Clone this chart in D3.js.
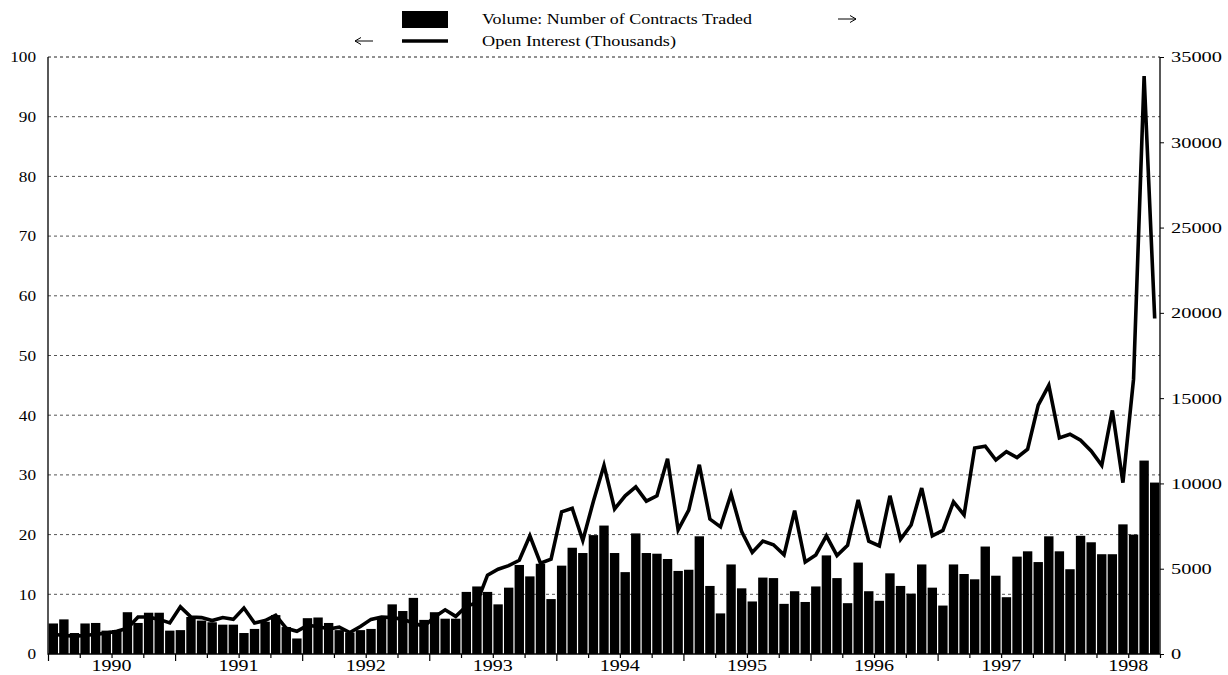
<!DOCTYPE html>
<html>
<head>
<meta charset="utf-8">
<script src="https://cdnjs.cloudflare.com/ajax/libs/d3/7.8.5/d3.min.js"></script>
<style>
body { margin: 0; background: #fff; }
svg { display: block; }
text { font-family: "Liberation Serif", "Times New Roman", serif; fill: #000; }
</style>
</head>
<body>
<svg id="chart" width="1228" height="675"></svg>
<script>
// monthly data, Jan 1990 .. Sep 1998
var years = ["1990", "1991", "1992", "1993", "1994", "1995", "1996", "1997", "1998"];

// volume: number of contracts traded (right axis)
var volume = [
    1790, 2030, 1230, 1790, 1820, 1370, 1400, 2450, 1820, 2420,
    2420, 1370, 1400, 2170, 1960, 1860, 1720, 1720, 1230, 1470,
    1890, 2280, 1580, 910, 2100, 2140, 1820, 1400, 1260, 1400,
    1470, 2170, 2910, 2520, 3290, 2000, 2450, 2070, 2070, 3640,
    3960, 3640, 2910, 3890, 5220, 4550, 5290, 3220, 5180, 6230,
    5920, 6970, 7530, 5920, 4800, 7070, 5920, 5880, 5570, 4870,
    4940, 6900, 3990, 2380, 5250, 3850, 3080, 4480, 4450, 2940,
    3680, 3050, 3960, 5780, 4450, 2980, 5360, 3680, 3120, 4730,
    3990, 3540, 5250, 3890, 2840, 5250, 4690, 4380, 6300, 4590,
    3330, 5710, 6020, 5390, 6900, 6020, 4970, 6930, 6550, 5850,
    5850, 7600, 7000, 11340, 10050
];

// open interest in thousands (left axis)
var openInterest = [
    3.3, 3.1, 3.0, 3.1, 3.3, 3.5, 3.8, 4.3, 6.2, 6.2,
    5.8, 5.2, 7.9, 6.2, 6.1, 5.6, 6.1, 5.8, 7.7, 5.2,
    5.6, 6.5, 4.3, 3.8, 4.8, 4.6, 4.2, 4.5, 3.6, 4.6,
    5.8, 6.2, 6.1, 5.8, 5.2, 4.6, 6.2, 7.4, 6.3, 8.0,
    8.6, 13.2, 14.2, 14.8, 15.7, 19.8, 15.2, 15.9, 23.8, 24.4,
    19.0, 25.6, 31.6, 24.3, 26.5, 28.0, 25.6, 26.5, 32.7, 20.8,
    24.1, 31.7, 22.6, 21.3, 26.8, 20.5, 17.0, 18.9, 18.3, 16.6,
    24.0, 15.4, 16.6, 19.8, 16.5, 18.2, 25.8, 18.9, 18.1, 26.5,
    19.2, 21.6, 27.8, 19.8, 20.7, 25.5, 23.3, 34.5, 34.8, 32.5,
    33.9, 32.9, 34.3, 41.7, 45.0, 36.2, 36.8, 35.8, 34.0, 31.6,
    40.8, 28.7, 46.0, 96.8, 56.2
];

var leftTicks = [0, 10, 20, 30, 40, 50, 60, 70, 80, 90, 100];
var rightTicks = [0, 5000, 10000, 15000, 20000, 25000, 30000, 35000];

var legendVolume = "Volume: Number of Contracts Traded";
var legendOI = "Open Interest (Thousands)";

var margins = {left: 48, right: 68, top: 57, bottom: 21};
var screen = {width: 1228, height: 675};
var graph = {
    width: screen.width - margins.left - margins.right,
    height: screen.height - margins.top - margins.bottom
};
var serif = "Liberation Serif, Times New Roman, serif";

var svg = d3.select("#chart");

var xScale = d3.scaleLinear()
    .domain([0, volume.length])
    .range([margins.left, margins.left + graph.width]);

var yLeft = d3.scaleLinear()
    .domain([0, 100])
    .range([margins.top + graph.height, margins.top]);

var yRight = d3.scaleLinear()
    .domain([0, 35000])
    .range([margins.top + graph.height, margins.top]);

// dotted grid lines
svg.append("g")
    .selectAll("line")
    .data(leftTicks.slice(1))
    .enter()
    .append("line")
    .attr("x1", xScale(0))
    .attr("x2", xScale(volume.length))
    .attr("y1", function(d) { return yLeft(d); })
    .attr("y2", function(d) { return yLeft(d); })
    .style("stroke", function(d) { return d == 100 ? "#222" : "#555"; })
    .style("stroke-width", 1)
    .style("stroke-dasharray", "3,3");

// volume bars
svg.append("g")
    .selectAll("rect")
    .data(volume)
    .enter()
    .append("rect")
    .attr("x", function(d, i) { return xScale(i) + 0.6; })
    .attr("width", function(d, i) { return xScale(i + 1) - xScale(i) - 1.2; })
    .attr("y", function(d) { return yRight(d); })
    .attr("height", function(d) { return yRight(0) - yRight(d); })
    .style("fill", "black");

// open interest line
var line = d3.line()
    .x(function(d, i) { return xScale(i + 0.5); })
    .y(function(d) { return yLeft(d); });

svg.append("path")
    .datum(openInterest)
    .attr("d", line)
    .style("fill", "none")
    .style("stroke", "black")
    .style("stroke-width", 3.6)
    .style("stroke-linejoin", "miter");

// left axis
var leftAxis = svg.append("g")
    .attr("transform", "translate(" + xScale(0) + ",0)")
    .call(d3.axisLeft(yLeft).tickValues(leftTicks).tickSize(0).tickPadding(12).tickSizeOuter(0));
leftAxis.attr("font-family", serif);
leftAxis.select(".domain").remove();
leftAxis.selectAll("text")
    .style("font-size", "15px")
    .attr("textLength", function(d) { return String(d).length * 8.6; })
    .attr("lengthAdjust", "spacingAndGlyphs");

// right axis
var rightAxis = svg.append("g")
    .attr("transform", "translate(" + xScale(volume.length) + ",0)")
    .call(d3.axisRight(yRight).tickValues(rightTicks).tickFormat(d3.format("d"))
        .tickSize(4).tickPadding(7).tickSizeOuter(0));
rightAxis.attr("font-family", serif);
rightAxis.select(".domain").remove();
rightAxis.selectAll("text")
    .style("font-size", "15.5px")
    .attr("textLength", function(d) { return String(d).length * 10.2; })
    .attr("lengthAdjust", "spacingAndGlyphs");

// bottom axis, quarterly ticks, longer ones at year starts
var bottomAxis = svg.append("g")
    .attr("transform", "translate(0," + yLeft(0) + ")")
    .call(d3.axisBottom(xScale).tickValues(d3.range(0, volume.length + 1, 3)).tickSize(4).tickFormat("").tickSizeOuter(0));
bottomAxis.select(".domain").remove();
bottomAxis.selectAll(".tick line")
    .attr("y2", function(d) { return d % 12 == 0 ? 7 : 4; })
    .style("stroke-width", 1.2);

svg.append("g")
    .selectAll("text")
    .data(years)
    .enter()
    .append("text")
    .attr("x", function(d, i) { return xScale(i * 12 + 6); })
    .attr("y", 671)
    .attr("text-anchor", "middle")
    .style("font-size", "16px")
    .attr("textLength", 40)
    .attr("lengthAdjust", "spacingAndGlyphs")
    .text(function(d) { return d; });

// frame: left, right, bottom solid
svg.append("path")
    .attr("d", "M" + xScale(0) + "," + yLeft(100) + "V" + yLeft(0) + "H" + xScale(volume.length) + "V" + yLeft(100))
    .style("fill", "none")
    .style("stroke", "black")
    .style("stroke-width", 1.3);

// legend
var legend = svg.append("g");

var drawArrow = function(x1, x2, y)
{
    var dir = x2 > x1 ? -1 : 1;
    legend.append("path")
        .attr("d", "M" + x1 + "," + y + "H" + x2
            + "M" + (x2 + dir * 6) + "," + (y - 3.5) + "L" + x2 + "," + y + "L" + (x2 + dir * 6) + "," + (y + 3.5))
        .style("fill", "none")
        .style("stroke", "black")
        .style("stroke-width", 1);
}

legend.append("rect")
    .attr("x", 402)
    .attr("y", 11)
    .attr("width", 46)
    .attr("height", 17)
    .style("fill", "black");

legend.append("text")
    .attr("x", 482)
    .attr("y", 24)
    .style("font-size", "15px")
    .attr("textLength", 270)
    .attr("lengthAdjust", "spacingAndGlyphs")
    .text(legendVolume);

drawArrow(838, 856, 19);

legend.append("line")
    .attr("x1", 402)
    .attr("x2", 448)
    .attr("y1", 41)
    .attr("y2", 41)
    .style("stroke", "black")
    .style("stroke-width", 3.6);

legend.append("text")
    .attr("x", 482)
    .attr("y", 46)
    .style("font-size", "15px")
    .attr("textLength", 194)
    .attr("lengthAdjust", "spacingAndGlyphs")
    .text(legendOI);

drawArrow(373, 355, 41);
</script>
</body>
</html>
